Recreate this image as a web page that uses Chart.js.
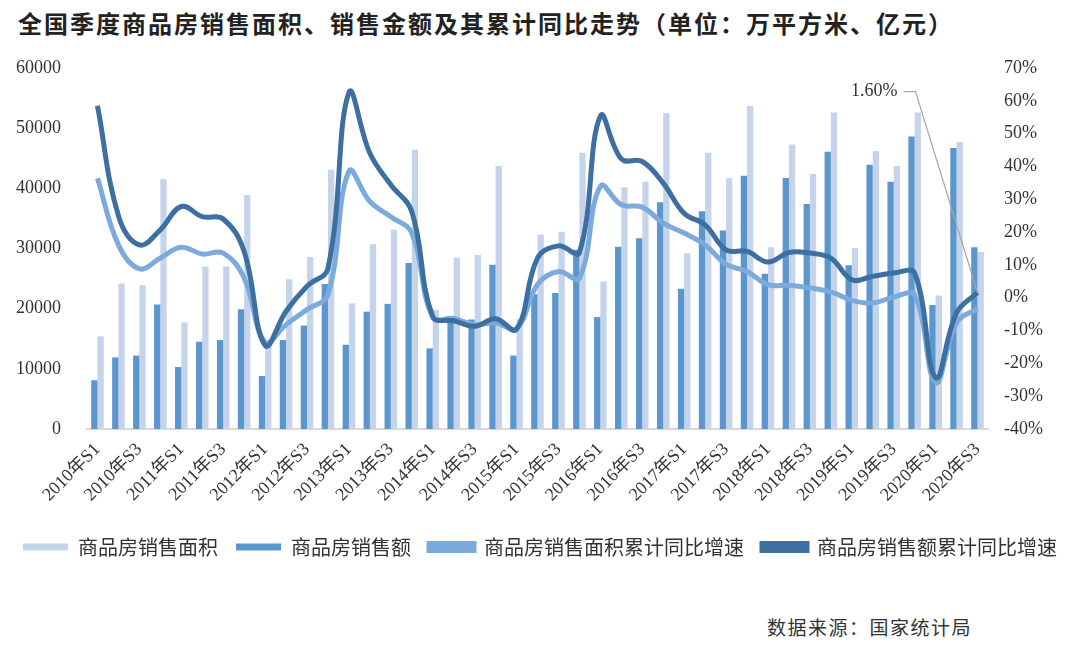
<!DOCTYPE html>
<html>
<head>
  <meta charset="utf-8">
  <title>全国季度商品房销售面积、销售金额</title>
  <script src="https://cdn.jsdelivr.net/npm/chart.js"></script>
  <style>
    body { margin: 0; background: #fff; width: 1080px; height: 649px; position: relative; overflow: hidden; }
    #title { position: absolute; left: 18px; top: 5px; font: bold 24px 'Noto Sans CJK SC', sans-serif; color: #222; letter-spacing: 2px; }
    #source { position: absolute; left: 767px; top: 613px; font: 19px 'Noto Sans CJK SC', sans-serif; color: #333; letter-spacing: 1.5px; }
    #wrap { position: absolute; left: 0; top: 0; }
  </style>
</head>
<body>
  <div id="title">全国季度商品房销售面积、销售金额及其累计同比走势（单位：万平方米、亿元）</div>
  <div id="wrap"><canvas id="houseChart" width="1080" height="600"></canvas></div>
  <div id="source">数据来源：国家统计局</div>
  <script>
    // categories: 2010年S1 ... 2020年S3 (quarters)
    var quarters = [];
    for (var y = 2010; y <= 2020; y++) {
      for (var q = 1; q <= 4; q++) {
        if (y === 2020 && q > 3) break;
        quarters.push(y + '年S' + q);
      }
    }

    // 商品房销售面积 (万平方米), quarterly
    var salesArea = [15400, 24200, 23900, 41500, 17700, 27000, 27000, 38900,
      14800, 24900, 28600, 43100, 20900, 30700, 33100, 46400,
      19800, 28500, 28900, 43700, 18300, 32300, 32800, 45900,
      24500, 40200, 41100, 52500, 29200, 45900, 41700, 53700,
      30200, 47300, 42400, 52600, 30100, 46200, 43700, 52600,
      22200, 47700, 29400];

    // 商品房销售额 (亿元), quarterly
    var salesAmount = [8100, 11900, 12200, 20700, 10300, 14500, 14800, 19900,
      8800, 14800, 17200, 24100, 14000, 19500, 20800, 27600,
      13400, 18000, 18200, 27300, 12200, 22400, 22600, 29800,
      18600, 30300, 31700, 37700, 23300, 36200, 33000, 42100,
      25800, 41700, 37400, 46100, 27200, 43900, 41100, 48600,
      20600, 46700, 30200];

    // 累计同比增速 (%)
    var areaGrowth = [36.4, 16.1, 8.8, 12.1, 15.4, 13.3, 13.6, 6.0,
      -13.6, -8.2, -3.6, 0.9, 38.5, 29.3, 24.7, 19.7,
      -6.0, -6.3, -8.2, -7.7, -9.4, 4.0, 8.0, 6.0,
      34.0, 28.3, 27.6, 22.7, 19.7, 16.1, 10.2, 8.0,
      4.0, 3.8, 3.0, 1.8, -0.8, -1.6, 0.2, 0.8,
      -25.9, -7.6, -3.3];

    var amountGrowth = [58.5, 25.0, 16.1, 20.7, 27.8, 24.7, 24.0, 14.1,
      -14.5, -4.1, 3.5, 9.0, 62.5, 44.0, 34.4, 26.3,
      -5.7, -7.0, -8.7, -6.4, -9.6, 12.1, 15.8, 13.8,
      55.4, 42.3, 41.5, 34.9, 25.7, 22.2, 14.6, 14.1,
      10.9, 13.8, 13.6, 12.1, 5.5, 6.5, 7.5, 7.5,
      -24.4, -4.6, 1.6];

    var leftTicks = [0, 10000, 20000, 30000, 40000, 50000, 60000];
    var rightTicks = [-40, -30, -20, -10, 0, 10, 20, 30, 40, 50, 60, 70];

    var serif = "'Liberation Serif', 'Noto Sans CJK SC', serif";

    // label for the last point of 销售额累计同比增速
    var lastLabelPlugin = {
      id: 'lastLabel',
      afterDatasetsDraw: function (chart) {
        var meta = chart.getDatasetMeta(3);
        var pt = meta.data[meta.data.length - 1];
        var ctx = chart.ctx;
        var ty = chart.scales.y1.getPixelForValue(62.8);
        var tx = pt.x - 80;
        ctx.save();
        ctx.font = '18px ' + serif;
        ctx.fillStyle = '#333';
        ctx.textAlign = 'right';
        ctx.textBaseline = 'middle';
        ctx.fillText(amountGrowth[amountGrowth.length - 1].toFixed(2) + '%', tx, ty);
        ctx.strokeStyle = '#a6a6a6';
        ctx.lineWidth = 1.2;
        ctx.beginPath();
        ctx.moveTo(tx + 6, ty);
        ctx.lineTo(tx + 18, ty);
        ctx.lineTo(pt.x, pt.y);
        ctx.stroke();
        ctx.restore();
      }
    };

    var ctx = document.getElementById('houseChart');
    new Chart(ctx, {
      data: {
        labels: quarters,
        datasets: [
          {
            type: 'bar',
            label: '商品房销售面积',
            data: salesArea,
            backgroundColor: 'rgb(197, 212, 234)',
            yAxisID: 'y',
            order: 3
          },
          {
            type: 'bar',
            label: '商品房销售额',
            data: salesAmount,
            backgroundColor: 'rgb(91, 150, 205)',
            yAxisID: 'y',
            order: 2
          },
          {
            type: 'line',
            label: '商品房销售面积累计同比增速',
            data: areaGrowth,
            borderColor: 'rgb(124, 170, 220)',
            backgroundColor: 'rgb(124, 170, 220)',
            borderWidth: 5,
            pointRadius: 0,
            tension: 0.4,
            yAxisID: 'y1',
            order: 1
          },
          {
            type: 'line',
            label: '商品房销售额累计同比增速',
            data: amountGrowth,
            borderColor: 'rgb(61, 111, 160)',
            backgroundColor: 'rgb(61, 111, 160)',
            borderWidth: 5,
            pointRadius: 0,
            tension: 0.4,
            yAxisID: 'y1',
            order: 0
          }
        ]
      },
      options: {
        responsive: false,
        animation: false,
        datasets: {
          bar: { barPercentage: 1.0, categoryPercentage: 0.6 }
        },
        layout: { padding: { top: 68, left: 0, right: 0, bottom: 33 } },
        scales: {
          x: {
            grid: { display: false },
            border: { display: true, color: '#d9d9d9', width: 2 },
            ticks: {
              autoSkip: false,
              minRotation: 45,
              maxRotation: 45,
              padding: 2,
              color: '#333',
              font: { family: serif, size: 18 },
              callback: function (val, idx) {
                return idx % 2 === 0 ? this.getLabelForValue(val) : '';
              }
            },
            afterFit: function (scale) { scale.height = 90; }
          },
          y: {
            position: 'left',
            min: 0,
            max: 60000,
            grid: { display: false },
            border: { display: false },
            afterBuildTicks: function (scale) {
              scale.ticks = leftTicks.map(function (v) { return { value: v }; });
            },
            ticks: {
              padding: 18,
              color: '#333',
              font: { family: serif, size: 18 },
              callback: function (v) { return String(v); }
            },
            afterFit: function (scale) { scale.width = 87; }
          },
          y1: {
            position: 'right',
            min: -40,
            max: 70,
            grid: { display: false },
            border: { display: false },
            afterBuildTicks: function (scale) {
              scale.ticks = rightTicks.map(function (v) { return { value: v }; });
            },
            ticks: {
              padding: 8,
              color: '#333',
              font: { family: serif, size: 18 },
              callback: function (v) { return v + '%'; }
            },
            afterFit: function (scale) { scale.width = 92; }
          }
        },
        plugins: {
          legend: {
            position: 'bottom',
            labels: {
              boxWidth: 45,
              boxHeight: 7,
              padding: 18,
              color: '#333',
              font: { family: "'Noto Sans CJK SC', sans-serif", size: 20 },
              sort: function (a, b) { return a.datasetIndex - b.datasetIndex; }
            }
          },
          tooltip: { enabled: false }
        }
      },
      plugins: [lastLabelPlugin]
    });
  </script>
</body>
</html>
